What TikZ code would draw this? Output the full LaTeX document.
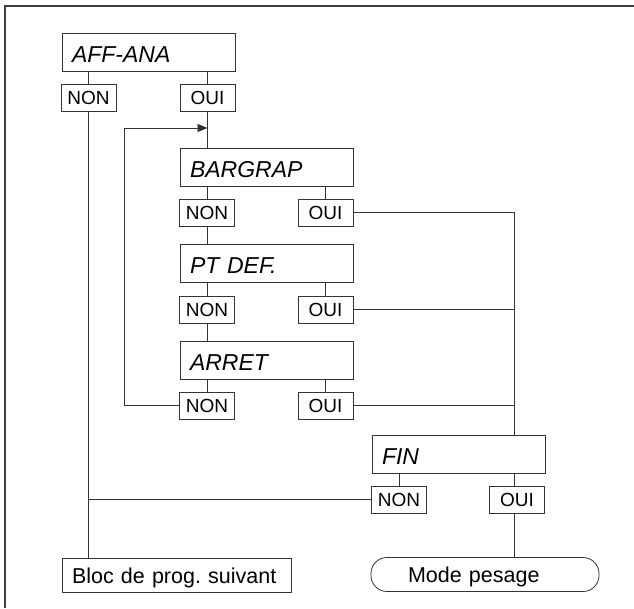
\documentclass[tikz,border=0pt]{standalone}
\usepackage{fontspec}
\setmainfont{Liberation Sans}
\usetikzlibrary{arrows.meta, positioning}
\tikzset{
  menubox/.style={
    draw=black!80, line width=0.8pt, align=left,
    minimum width=173pt, minimum height=38pt, inner xsep=10pt,
    text width=153pt, text height=20pt, text depth=0pt,
    font=\fontsize{23}{26}\selectfont\itshape
  },
  answerbox/.style={
    draw=black!80, line width=0.8pt, inner sep=0pt,
    minimum width=55pt, minimum height=27pt,
    font=\fontsize{19}{21}\selectfont
  },
  endbox/.style={
    draw=black!80, line width=0.8pt, align=left,
    minimum height=34pt, text height=16pt, text depth=0pt,
    font=\fontsize{21.5}{24}\selectfont
  },
  flowline/.style={line width=0.8pt, draw=black!80},
  flowarrow/.style={flowline, -{Triangle[length=10pt, width=8pt]}},
}

\begin{document}
\begin{tikzpicture}[x=1pt, y=-1pt]
  \useasboundingbox (0,0) rectangle (634,608);

  % ── Frame ──────────────────────────────────────────────────────
  \draw[line width=1.6pt, black!75] (5,608) -- (5,6) -- (634,6);

  % ── AFF-ANA ────────────────────────────────────────────────────
  \node[menubox] (aff) at (148.5, 52) {AFF-ANA};
  \node[answerbox] (affnon) at (88.5, 97.5) {NON};
  \node[answerbox] (affoui) at (207.5, 97.5) {OUI};

  % ── Sub-menu ───────────────────────────────────────────────────
  \node[menubox] (bar) at (266.5, 167) {BARGRAP};
  \node[answerbox] (barnon) at (207, 212.5) {NON};
  \node[answerbox] (baroui) at (325.5, 212.5) {OUI};

  \node[menubox] (ptdef) at (266.5, 263.5) {PT DEF.};
  \node[answerbox] (ptnon) at (207, 309.5) {NON};
  \node[answerbox] (ptoui) at (325.5, 309.5) {OUI};

  \node[menubox] (arret) at (266.5, 360) {ARRET};
  \node[answerbox] (arnon) at (207, 405.5) {NON};
  \node[answerbox] (aroui) at (325.5, 405.5) {OUI};

  % ── FIN ────────────────────────────────────────────────────────
  \node[menubox] (fin) at (458.5, 454) {FIN};
  \node[answerbox] (finnon) at (399, 499.5) {NON};
  \node[answerbox] (finoui) at (517, 499.5) {OUI};

  % Exits
  \node[endbox, minimum width=229pt, inner xsep=10pt, text width=209pt]
    (bloc) at (176.5, 575) {Bloc de prog.\ suivant};
  \node[endbox, rounded corners=16pt, minimum width=228pt,
        inner xsep=37pt, text width=154pt]
    (mode) at (485, 574.5) {Mode pesage};

  % ── Connectors ─────────────────────────────────────────────────
  \draw[flowline] (aff.south -| affnon.north) -- (affnon.north);
  \draw[flowline] (aff.south -| affoui.north) -- (affoui.north);
  \draw[flowline] (affnon.south) -- (affnon.south |- bloc.north);
  \draw[flowline] (affoui.south) -- (affoui.south |- bar.north);

  \draw[flowline] (bar.south -| barnon.north) -- (barnon.north);
  \draw[flowline] (bar.south -| baroui.north) -- (baroui.north);
  \draw[flowline] (barnon.south) -- (barnon.south |- ptdef.north);

  \draw[flowline] (ptdef.south -| ptnon.north) -- (ptnon.north);
  \draw[flowline] (ptdef.south -| ptoui.north) -- (ptoui.north);
  \draw[flowline] (ptnon.south) -- (ptnon.south |- arret.north);

  \draw[flowline] (arret.south -| arnon.north) -- (arnon.north);
  \draw[flowline] (arret.south -| aroui.north) -- (aroui.north);

  % loop back to the sub-menu
  \coordinate (back) at (124, 128);
  \draw[flowarrow] (arnon.west) -| (back) -- (back -| affoui.south);

  % OUI answers to FIN
  \coordinate (bus) at (514, 454);
  \draw[flowline] (baroui.east) -| (bus |- fin.north);
  \draw[flowline] (ptoui.east) -- (ptoui.east -| bus);
  \draw[flowline] (aroui.east) -- (aroui.east -| bus);

  \draw[flowline] (fin.south -| finnon.north) -- (finnon.north);
  \draw[flowline] (fin.south -| bus) -- (finoui.north -| bus);
  \draw[flowline] (finnon.west) -- (finnon.west -| affnon.south);
  \draw[flowline] (finoui.south -| bus) -- (mode.north -| bus);
\end{tikzpicture}
\end{document}
